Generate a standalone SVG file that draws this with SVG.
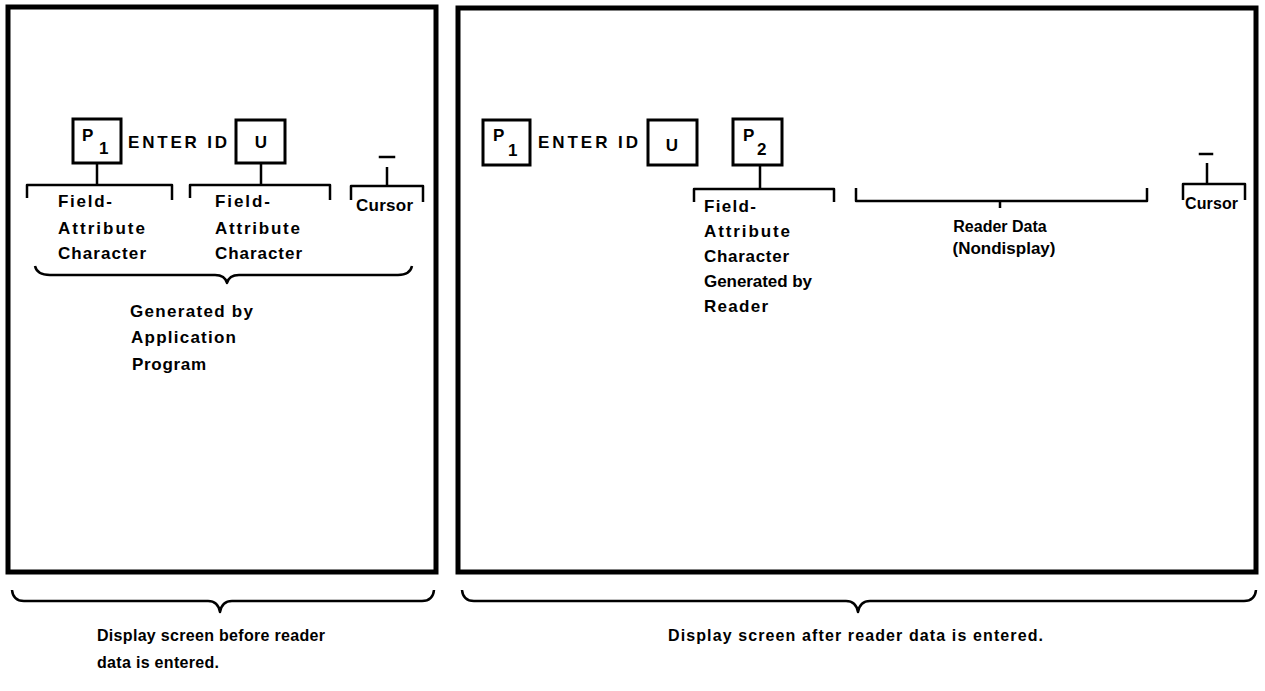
<svg xmlns="http://www.w3.org/2000/svg" width="1265" height="691" viewBox="0 0 1265 691">
<style>
.scr{fill:none;stroke:#000;stroke-width:5}
.bx{fill:#fff;stroke:#000;stroke-width:3}
.ln{fill:none;stroke:#000;stroke-width:2.5;stroke-linecap:square}
.br{fill:none;stroke:#000;stroke-width:2.5;stroke-linejoin:round}
text{font-family:"Liberation Sans",Arial,sans-serif;font-weight:bold;font-size:17px;fill:#000}
.sm{font-size:16px}
</style>
<rect width="1265" height="691" fill="#fff"/>
<g id="screen-before">
<rect class="scr" x="8" y="7" width="428" height="565"/>
</g>
<g id="screen-after">
<rect class="scr" x="458" y="8" width="798" height="564"/>
</g>
<g id="left-p1">
<rect class="bx" x="73" y="119" width="48" height="44"/>
<text x="82" y="141">P</text>
<text x="99" y="154">1</text>
</g>
<g id="left-enter">
<text x="128" y="148" textLength="99" lengthAdjust="spacing">ENTER ID</text>
</g>
<g id="left-u">
<rect class="bx" x="236" y="120" width="49" height="43"/>
<text x="261" y="148" text-anchor="middle">U</text>
</g>
<g id="left-cursor">
<line class="ln" x1="380" y1="157" x2="394" y2="157"/>
<text x="356" y="211" textLength="57" lengthAdjust="spacing">Cursor</text>
</g>
<g id="left-fa1">
<text x="58" y="207" textLength="54" lengthAdjust="spacing">Field-</text>
<text x="58" y="234" textLength="87" lengthAdjust="spacing">Attribute</text>
<text x="58" y="259" textLength="88" lengthAdjust="spacing">Character</text>
</g>
<g id="left-fa2">
<text x="215" y="207" textLength="55" lengthAdjust="spacing">Field-</text>
<text x="215" y="234" textLength="85" lengthAdjust="spacing">Attribute</text>
<text x="215" y="259" textLength="87" lengthAdjust="spacing">Character</text>
</g>
<g id="left-generated">
<text x="130" y="317" textLength="123" lengthAdjust="spacing">Generated by</text>
<text x="131" y="343" textLength="105" lengthAdjust="spacing">Application</text>
<text x="132" y="370" textLength="74" lengthAdjust="spacing">Program</text>
</g>
<g id="right-p1">
<rect class="bx" x="483" y="120" width="47" height="45"/>
<text x="493" y="141">P</text>
<text x="508" y="156">1</text>
</g>
<g id="right-enter">
<text x="538" y="148" textLength="100" lengthAdjust="spacing">ENTER ID</text>
</g>
<g id="right-u">
<rect class="bx" x="648" y="120" width="49" height="45"/>
<text x="672" y="151" text-anchor="middle">U</text>
</g>
<g id="right-p2">
<rect class="bx" x="733" y="119" width="49" height="46"/>
<text x="743" y="141">P</text>
<text x="757" y="155">2</text>
</g>
<g id="right-fa">
<text x="704" y="212" textLength="52" lengthAdjust="spacing">Field-</text>
<text x="704" y="237" textLength="86" lengthAdjust="spacing">Attribute</text>
<text x="704" y="262" textLength="85" lengthAdjust="spacing">Character</text>
<text x="704" y="287" textLength="108" lengthAdjust="spacing">Generated by</text>
<text x="704" y="312" textLength="64" lengthAdjust="spacing">Reader</text>
</g>
<g id="right-reader-data">
<text class="sm" x="1000" y="232" text-anchor="middle">Reader Data</text>
<text x="1004" y="254" text-anchor="middle">(Nondisplay)</text>
</g>
<g id="right-cursor">
<line class="ln" x1="1200" y1="154" x2="1212" y2="154"/>
<text class="sm" x="1185" y="209" textLength="53" lengthAdjust="spacing">Cursor</text>
</g>
<g id="label-before">
<text class="sm" x="97" y="641" textLength="228" lengthAdjust="spacing">Display screen before reader</text>
<text class="sm" x="97" y="668" textLength="122" lengthAdjust="spacing">data is entered.</text>
</g>
<g id="label-after">
<text class="sm" x="668" y="641" textLength="375" lengthAdjust="spacing">Display screen after reader data is entered.</text>
</g>
<g id="connectors">
<path class="br" d="M97 163 V185 M27 198 V185 H172 V200"/>
<path class="br" d="M261 163 V185 M190 198 V185 H330 V200"/>
<path class="br" d="M387 167 V186 M351 200 V186 H423 V202"/>
<path class="br" d="M35 266 Q37 275 50 275 H215 Q225 275 227 283 Q229 275 239 275 H398 Q410 275 412 266"/>
<path class="br" d="M760 165 V189 M694 202 V189 H834 V202"/>
<path class="br" d="M856 188 V201 H1147 V188 M1000 201 V208"/>
<path class="br" d="M1207 163 V184 M1183 200 V184 H1245 V200"/>
<path class="br" d="M12 590 Q13 601 24 601 H208 Q218 601 220 612 Q222 601 232 601 H422 Q433 601 434 590"/>
<path class="br" d="M462 590 Q463 601 474 601 H846 Q856 601 858 612 Q860 601 870 601 H1244 Q1255 601 1256 590"/>
</g>
</svg>
